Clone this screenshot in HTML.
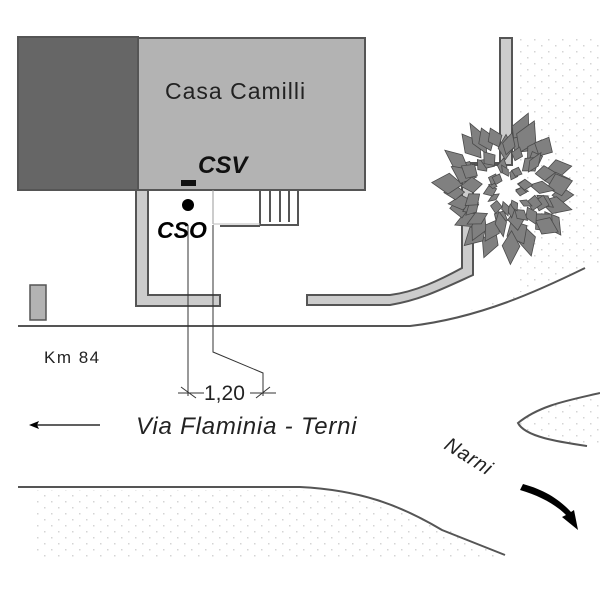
<!DOCTYPE html>
<html><head><meta charset="utf-8"><style>
html,body{margin:0;padding:0;background:#fff;}
svg{display:block;}
text{font-family:"Liberation Sans",sans-serif;}
</style></head><body>
<svg id="s" width="600" height="600" viewBox="0 0 600 600" xmlns="http://www.w3.org/2000/svg">
<defs>
<pattern id="dots" width="14" height="12" patternUnits="userSpaceOnUse">
<rect x="2" y="3" width="1.5" height="1.5" fill="#d4d4d4"/>
<rect x="9" y="9" width="1.5" height="1.5" fill="#d4d4d4"/>
</pattern>
</defs>
<path d="M515,38 L600,38 L600,262 C540,285 500,300 470,310 L515,300 Z" fill="url(#dots)"/>
<path d="M35,490 L300,490 C380,495 430,520 505,558 L35,558 Z" fill="url(#dots)"/>
<path d="M600,393 C570,400 540,405 518,425 C530,440 560,443 600,447 Z" fill="url(#dots)"/>

<rect x="18" y="37" width="120" height="153" fill="#666" stroke="#555" stroke-width="2"/>
<rect x="138" y="38" width="227" height="152" fill="#b3b3b3" stroke="#555" stroke-width="2"/>
<text x="165" y="99" font-size="23" letter-spacing="1" fill="#222">Casa Camilli</text>
<text x="198" y="173" font-size="24" font-style="italic" font-weight="bold" fill="#111">CSV</text>
<rect x="181" y="180" width="15" height="6" fill="#111"/>
<circle cx="188" cy="205" r="6" fill="#000"/>
<text x="157" y="238" font-size="23" font-style="italic" font-weight="bold" fill="#000">CSO</text>

<path d="M136,190 L136,306 L220,306 L220,295 L148,295 L148,190 Z" fill="#ccc" stroke="#555" stroke-width="2"/>
<rect x="260" y="190" width="38" height="35" fill="#fff" stroke="#555" stroke-width="2"/>
<line x1="270" y1="190" x2="270" y2="222" stroke="#555" stroke-width="2"/>
<line x1="280" y1="190" x2="280" y2="222" stroke="#555" stroke-width="2"/>
<line x1="289" y1="190" x2="289" y2="222" stroke="#555" stroke-width="2"/>
<line x1="220" y1="226" x2="260" y2="226" stroke="#555" stroke-width="2"/>
<line x1="213" y1="190" x2="213" y2="224" stroke="#999" stroke-width="1"/>
<line x1="213" y1="224" x2="260" y2="224" stroke="#bbb" stroke-width="1"/>

<rect x="30" y="285" width="16" height="35" fill="#b3b3b3" stroke="#555" stroke-width="1.5"/>

<path d="M500,38 L512,38 L512,165 L473,165 L473,275 C440,290 420,300 390,305 L307,305 L307,295 L390,295 C415,292 440,280 462,268 L462,163 L500,163 Z" fill="#ccc" stroke="#555" stroke-width="2"/>

<g id="tree"></g>

<path d="M18,326 L410,326 C480,318 540,290 585,268" fill="none" stroke="#555" stroke-width="2"/>
<path d="M18,487 L300,487 C360,490 400,505 442,530 L505,555" fill="none" stroke="#555" stroke-width="2"/>
<path d="M600,393 C570,400 540,405 518,423 C525,437 560,442 587,446" fill="none" stroke="#555" stroke-width="2"/>

<g stroke="#333" stroke-width="1" fill="none">
<line x1="188" y1="225" x2="188" y2="396"/>
<polyline points="213,225 213,352 263,373 263,396"/>
<line x1="178" y1="393" x2="204" y2="393"/>
<line x1="250" y1="393" x2="276" y2="393"/>
<line x1="181" y1="387" x2="196" y2="398"/>
<line x1="256" y1="398" x2="270" y2="387"/>
</g>
<text x="204" y="400" font-size="21" fill="#222">1,20</text>
<text x="44" y="363" font-size="17" letter-spacing="1.5" fill="#222">Km 84</text>
<line x1="34" y1="425" x2="100" y2="425" stroke="#000" stroke-width="1.2"/>
<path d="M29,425 L39,421 L37,425 L39,429 Z" fill="#000"/>
<text x="136" y="434" font-size="24" letter-spacing="0.8" font-style="italic" fill="#222">Via Flaminia - Terni</text>
<text x="0" y="0" font-size="20" letter-spacing="1" font-style="italic" fill="#222" transform="translate(443,448) rotate(32)">Narni</text>
<path d="M520,490 C540,496 555,504 566,515 L562,517 L578,530 L574,510 L571,512 C560,500 545,490 523,484 Z" fill="#000"/>
</svg>
<script>
(function(){
var g=document.getElementById('tree');var ns='http://www.w3.org/2000/svg';
var seed=11;function r(){seed=(seed*9301+49297)%233280;return seed/233280;}
var cx=508,cy=188;
function leaf(x,y,ang,l,w){var p=document.createElementNS(ns,'path');
p.setAttribute('d','M0,0 L'+w+','+(-l*0.45)+' L0,'+(-l)+' L'+(-w)+','+(-l*0.45)+' Z');
p.setAttribute('transform','translate('+x+','+y+') rotate('+ang+')');
p.setAttribute('fill','#808080');p.setAttribute('stroke','#4a4a4a');p.setAttribute('stroke-width','0.8');g.appendChild(p);}
for(var i=0;i<30;i++){var a=i/30*Math.PI*2+r()*0.25;var rad=32+r()*14;
var x=cx+Math.cos(a)*rad,y=cy+Math.sin(a)*rad;var deg=a*180/Math.PI+90+(r()-0.5)*50;
leaf(x,y,deg,20+r()*16,7+r()*5);}
for(var i=0;i<26;i++){var a=i/26*Math.PI*2+r()*0.3;var rad=20+r()*14;
var x=cx+Math.cos(a)*rad,y=cy+Math.sin(a)*rad;var deg=a*180/Math.PI+90+(r()-0.5)*70;
leaf(x,y,deg,14+r()*12,5+r()*4);}
for(var i=0;i<18;i++){var a=i/18*Math.PI*2+r()*0.3;var rad=8+r()*10;
var x=cx+Math.cos(a)*rad,y=cy+Math.sin(a)*rad;var deg=a*180/Math.PI+90+(r()-0.5)*80;
leaf(x,y,deg,8+r()*8,3+r()*3);}
})();
</script>
</body></html>
